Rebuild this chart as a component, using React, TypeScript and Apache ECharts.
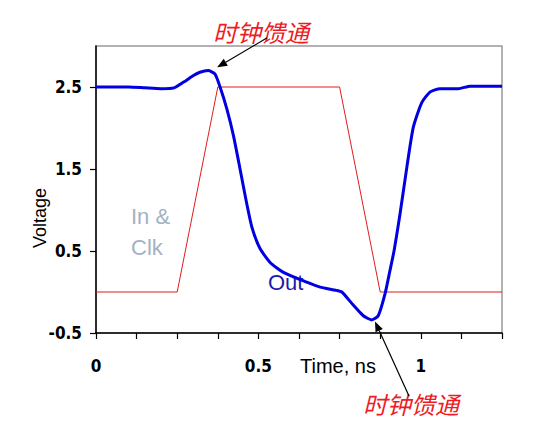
import React, { useEffect, useRef } from "react";
import * as echarts from "echarts";

// Clock input (In & Clk), in volts vs time in ns
const inX = [0, 0.25, 0.375, 0.75, 0.875, 1.25];
const inY = [0, 0, 2.5, 2.5, 0, 0];

// Output (Out)
const outX = [0, 0.1, 0.15, 0.2, 0.24, 0.27, 0.3, 0.32, 0.345, 0.366, 0.382, 0.403, 0.423, 0.4435, 0.464, 0.48, 0.505, 0.536, 0.577, 0.649, 0.69, 0.74, 0.757, 0.792, 0.823, 0.849, 0.869, 0.89, 0.905, 0.918, 0.936, 0.957, 0.977, 1.003, 1.029, 1.059, 1.116, 1.152, 1.25];
const outY = [2.5, 2.5, 2.49, 2.48, 2.49, 2.56, 2.64, 2.68, 2.7, 2.66, 2.5, 2.23, 1.91, 1.5, 1.08, 0.79, 0.53, 0.36, 0.24, 0.12, 0.06, 0.02, 0.0, -0.16, -0.29, -0.34, -0.29, -0.02, 0.26, 0.51, 0.95, 1.52, 2.01, 2.31, 2.44, 2.48, 2.48, 2.51, 2.51];

// Axis ticks and labels
const xTicks = [0, 0.125, 0.25, 0.375, 0.5, 0.625, 0.75, 0.875, 1, 1.125, 1.25];
const xLabels = [0, 0.5, 1];
const yTicks = [-0.5, 0.5, 1.5, 2.5];

// Annotation arrows: [tail, tip] in data coordinates
const annoTop = [[0.527, 3.1], [0.373, 2.74]];
const annoBottom = [[0.964, -1.27], [0.859, -0.36]];
const annoText = "时钟馈通";

const sansFont = "'Liberation Sans', Arial, sans-serif";
const narrowFont = "'DejaVu Sans Condensed', 'Liberation Sans Narrow', 'Liberation Sans', sans-serif";

function arrowEls(chart: any, tail: number[], tip: number[]) {
  const p1 = chart.convertToPixel({ gridIndex: 0 }, tail);
  const p2 = chart.convertToPixel({ gridIndex: 0 }, tip);
  const dx = p2[0] - p1[0];
  const dy = p2[1] - p1[1];
  const len = Math.hypot(dx, dy);
  const ux = dx / len;
  const uy = dy / len;
  const hl = 10;
  const hw = 4;
  const bx = p2[0] - ux * hl;
  const by = p2[1] - uy * hl;
  return [
    {
      type: "line",
      shape: { x1: p1[0], y1: p1[1], x2: bx, y2: by },
      style: { stroke: "#000", lineWidth: 1.2 },
      z: 100,
    },
    {
      type: "polygon",
      shape: {
        points: [
          [p2[0], p2[1]],
          [bx - uy * hw, by + ux * hw],
          [bx + uy * hw, by - ux * hw],
        ],
      },
      style: { fill: "#000" },
      z: 100,
    },
  ];
}

export default function App() {
  const ref = useRef<HTMLDivElement>(null);
  useEffect(() => {
    if (!ref.current) return;
    const chart = echarts.init(ref.current, null, { renderer: "svg" });
    chart.setOption({
      animation: false,
      backgroundColor: "#fff",
      grid: {
        left: 96,
        top: 46,
        width: 406,
        height: 287,
        show: true,
        borderColor: "#999",
        borderWidth: 1.5,
        backgroundColor: "transparent",
      },
      xAxis: {
        type: "value",
        min: 0,
        max: 1.25,
        axisLine: { show: true, onZero: false, lineStyle: { color: "#000", width: 1.5 } },
        axisTick: { show: true, length: 6, customValues: xTicks, lineStyle: { color: "#000", width: 1.2 } },
        axisLabel: {
          customValues: xLabels,
          margin: 24,
          color: "#000",
          fontSize: 17,
          fontWeight: "bold",
          fontFamily: narrowFont,
        },
        splitLine: { show: false },
      },
      yAxis: {
        type: "value",
        min: -0.5,
        max: 3,
        axisLine: { show: true, onZero: false, lineStyle: { color: "#000", width: 1.5 } },
        axisTick: { show: true, length: 6, customValues: yTicks, lineStyle: { color: "#000", width: 1.2 } },
        axisLabel: {
          customValues: yTicks,
          margin: 14,
          color: "#000",
          fontSize: 17,
          fontWeight: "bold",
          fontFamily: narrowFont,
        },
        splitLine: { show: false },
      },
      series: [
        {
          name: "In & Clk",
          type: "line",
          data: inX.map((x, i) => [x, inY[i]]),
          showSymbol: false,
          lineStyle: { color: "#e31b1b", width: 1 },
          z: 2,
        },
        {
          name: "Out",
          type: "line",
          data: outX.map((x, i) => [x, outY[i]]),
          showSymbol: false,
          smooth: 0.2,
          lineStyle: { color: "#0000e0", width: 3, join: "round" },
          z: 3,
        },
      ],
    });

    const graphics: any[] = [
      ...arrowEls(chart, annoTop[0], annoTop[1]),
      ...arrowEls(chart, annoBottom[0], annoBottom[1]),
      {
        type: "text",
        x: 40,
        y: 218,
        rotation: Math.PI / 2,
        style: { text: "Voltage", fontSize: 18, fontFamily: sansFont, fill: "#000", align: "center", verticalAlign: "middle" },
      },
      {
        type: "text",
        x: 338,
        y: 366,
        style: { text: "Time, ns", fontSize: 20, fontFamily: sansFont, fill: "#000", align: "center", verticalAlign: "middle" },
      },
      {
        type: "text",
        x: 131,
        y: 216,
        style: { text: "In &", fontSize: 22, fontFamily: sansFont, fill: "#a3b2c2", align: "left", verticalAlign: "middle" },
      },
      {
        type: "text",
        x: 131,
        y: 247,
        style: { text: "Clk", fontSize: 22, fontFamily: sansFont, fill: "#a3b2c2", align: "left", verticalAlign: "middle" },
      },
      {
        type: "text",
        x: 268,
        y: 282,
        style: { text: "Out", fontSize: 22, fontFamily: sansFont, fill: "#1c1ca8", align: "left", verticalAlign: "middle" },
      },
      {
        type: "text",
        x: 261,
        y: 31,
        style: { text: annoText, fontSize: 24, fontStyle: "italic", fontFamily: "'Noto Sans CJK SC', sans-serif", fill: "#ee1c24", align: "center", verticalAlign: "middle" },
      },
      {
        type: "text",
        x: 411,
        y: 403,
        style: { text: annoText, fontSize: 24, fontStyle: "italic", fontFamily: "'Noto Sans CJK SC', sans-serif", fill: "#ee1c24", align: "center", verticalAlign: "middle" },
      },
    ];
    chart.setOption({ graphic: graphics });

    return () => chart.dispose();
  }, []);
  return <div ref={ref} style={{ position: "fixed", left: 0, top: 0, width: 537, height: 434 }} />;
}
